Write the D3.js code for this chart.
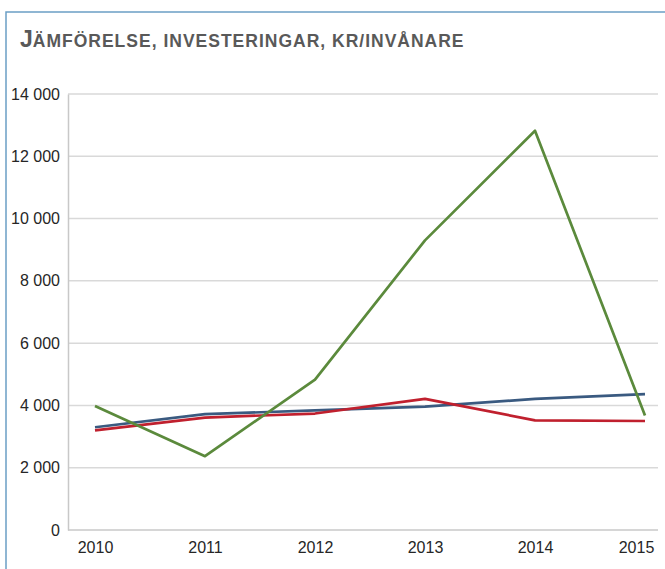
<!DOCTYPE html>
<html>
<head>
<meta charset="utf-8">
<script src="https://cdn.jsdelivr.net/npm/d3@7"></script>
<style>
  body { margin: 0; background: #fff; }
  svg { display: block; font-family: "Liberation Sans", Arial, sans-serif; }
</style>
</head>
<body>
<div id="chart"></div>
<script>
// data
const years = ["2010", "2011", "2012", "2013", "2014", "2015"];
const green = [3980, 2370, 4830, 9300, 12820, 3680];
const blue = [3300, 3720, 3840, 3960, 4210, 4360];
const red = [3200, 3610, 3740, 4210, 3520, 3500];
const yTicks = [0, 2000, 4000, 6000, 8000, 10000, 12000, 14000];

const width = 665, height = 569;

const svg = d3.select("#chart").append("svg")
  .attr("width", width)
  .attr("height", height);

// frame (only top and left edges visible)
svg.append("path")
  .attr("d", "M6,569V12H665")
  .attr("fill", "none")
  .attr("stroke", "#6b9fc5")
  .attr("stroke-width", 1.5);

// title
const title = svg.append("text")
  .attr("x", 20)
  .attr("y", 47)
  .attr("fill", "#595959")
  .attr("font-weight", "bold");
title.append("tspan").attr("font-size", 23).text("J");
title.append("tspan").attr("font-size", 17.5).attr("letter-spacing", 1.0)
  .text("ÄMFÖRELSE, INVESTERINGAR, KR/INVÅNARE");

const x = d3.scalePoint().domain(years).range([95, 645]);
const y = d3.scaleLinear().domain([0, 14000]).range([530, 94]);
const left = 68, right = 658;

const fmt = v => d3.format(",")(v).replace(/,/g, " ");

// gridlines
svg.append("g")
  .selectAll("line")
  .data(yTicks.filter(d => d > 0))
  .join("line")
  .attr("x1", left).attr("x2", right)
  .attr("y1", d => y(d)).attr("y2", d => y(d))
  .attr("stroke", "#d9d9d9")
  .attr("stroke-width", 1.5);

// y axis
const yAxis = svg.append("g")
  .attr("transform", `translate(${left},0)`)
  .call(d3.axisLeft(y).tickValues(yTicks).tickFormat(fmt).tickSize(0).tickPadding(8));
yAxis.select(".domain").attr("stroke", "#c8c8c8").attr("stroke-width", 1.5);
yAxis.selectAll("text").attr("font-size", 16).attr("fill", "#262626")
  .attr("font-family", "Liberation Sans, Arial, sans-serif");

// x axis
const xAxis = svg.append("g")
  .attr("transform", `translate(0,${y(0)})`)
  .call(d3.axisBottom(x).tickSize(0).tickPadding(12));
xAxis.select(".domain").attr("d", `M${left},0H${right}`)
  .attr("stroke", "#c8c8c8").attr("stroke-width", 1.5);
xAxis.selectAll("text").attr("font-size", 16).attr("fill", "#262626")
  .attr("font-family", "Liberation Sans, Arial, sans-serif")
  .attr("dx", d => d === "2015" ? -9 : 0);

const line = d3.line()
  .x((d, i) => x(years[i]))
  .y(d => y(d));

const series = [
  { values: blue, color: "#3a5a80" },
  { values: red, color: "#c0202e" },
  { values: green, color: "#5b8a3c" }
];

svg.append("g")
  .selectAll("path")
  .data(series)
  .join("path")
  .attr("d", d => line(d.values))
  .attr("fill", "none")
  .attr("stroke", d => d.color)
  .attr("stroke-width", 2.7)
  .attr("stroke-linejoin", "round");
</script>
</body>
</html>
